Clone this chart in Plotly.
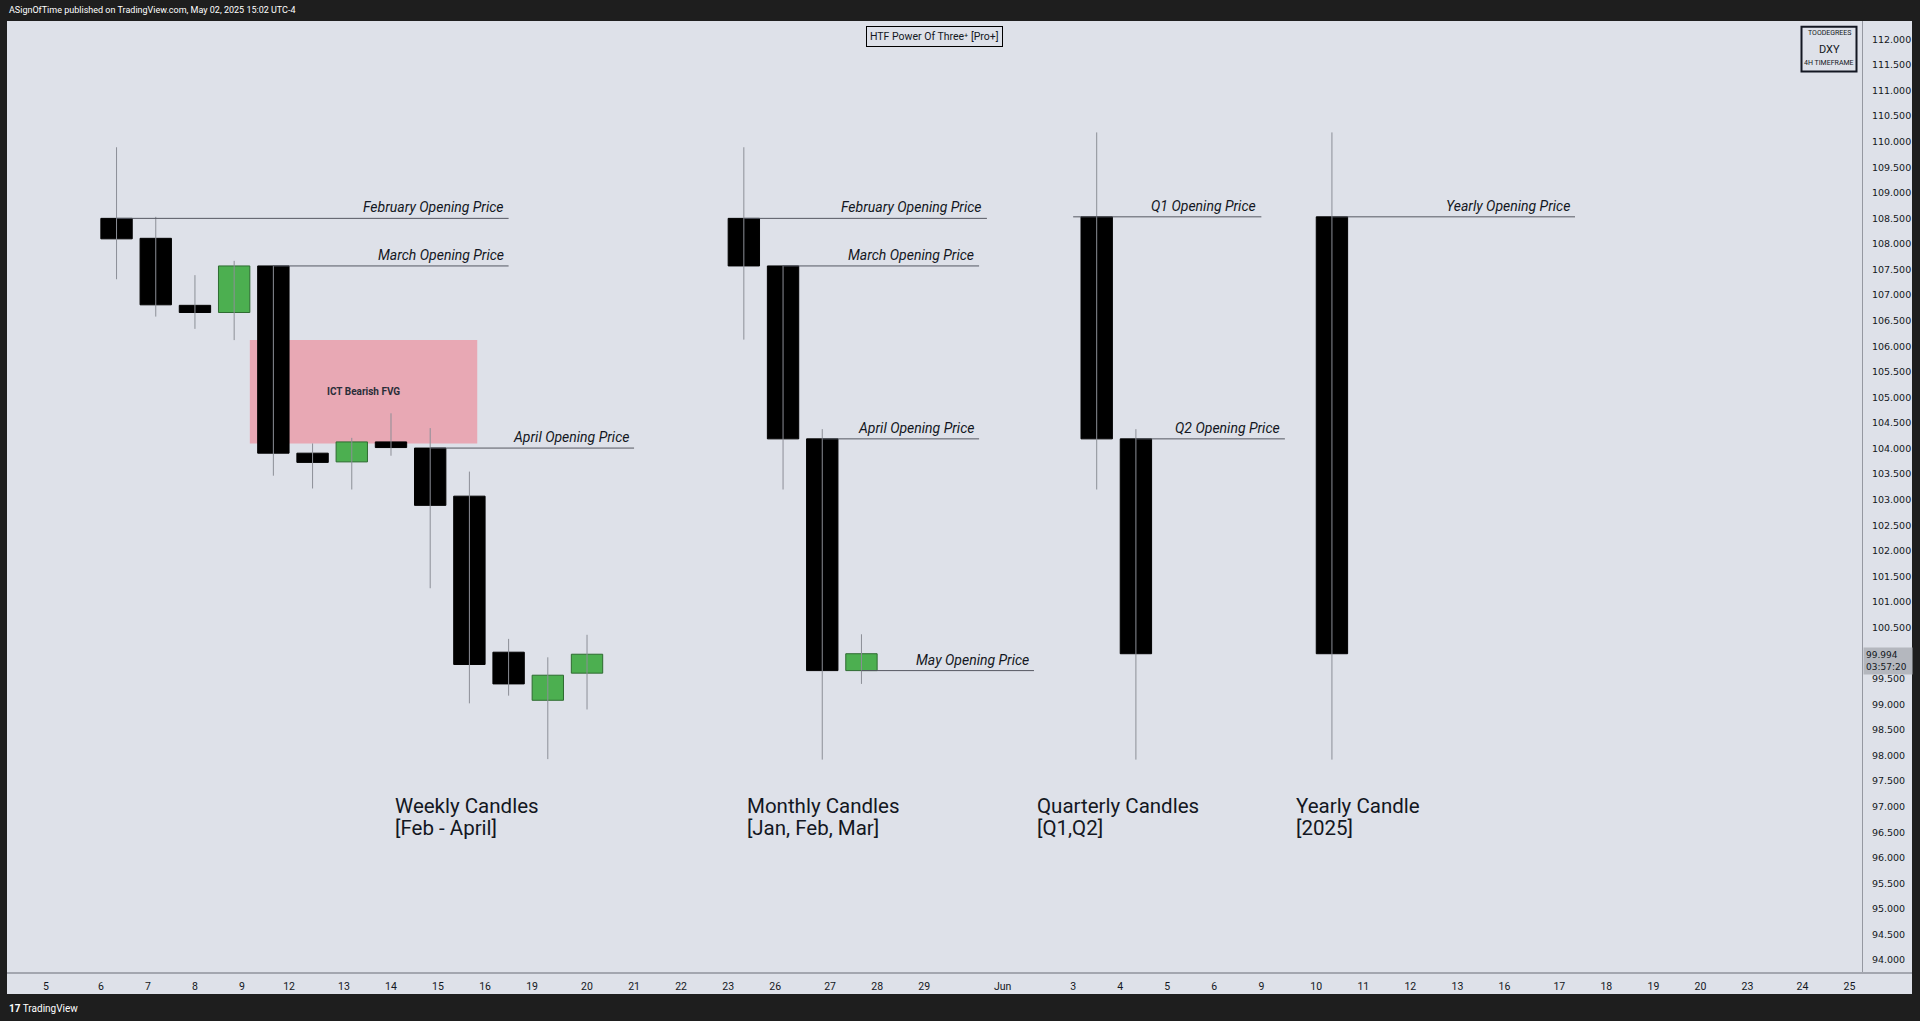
import plotly.graph_objects as go

# DXY - HTF power of three, prices
# x positions are in 4H-bar units counted from the "5" tick

weekly_x = [9, 14, 19, 24, 29, 34, 39, 44, 49, 54, 59, 64, 69]
weekly_open = [108.50, 108.11, 106.80, 106.66, 107.57, 103.91, 103.74, 104.13, 104.01, 103.07, 100.02, 99.08, 99.61]
weekly_high = [109.89, 108.53, 107.39, 107.67, 107.57, 104.10, 104.21, 104.69, 104.40, 103.55, 100.28, 99.92, 100.36]
weekly_low = [107.31, 106.58, 106.34, 106.12, 103.47, 103.22, 103.20, 103.86, 101.27, 99.02, 99.17, 97.93, 98.90]
weekly_close = [108.10, 106.81, 106.66, 107.57, 103.91, 103.73, 104.13, 104.02, 102.89, 99.78, 99.40, 99.57, 99.98]

monthly_x = [89, 94, 99, 104]
monthly_open = [108.50, 107.57, 104.19, 99.66]
monthly_high = [109.89, 107.57, 104.38, 100.37]
monthly_low = [106.13, 103.20, 97.92, 99.40]
monthly_close = [107.57, 104.19, 99.66, 99.99]

quarterly_x = [134, 139]
quarterly_open = [108.53, 104.19]
quarterly_high = [110.18, 104.38]
quarterly_low = [103.20, 97.92]
quarterly_close = [104.19, 99.99]

yearly_x = [164]
yearly_open = [108.53]
yearly_high = [110.18]
yearly_low = [97.92]
yearly_close = [99.99]

# opening price lines: label, start, end, price
line_labels = ["February Opening Price", "March Opening Price", "April Opening Price",
               "February Opening Price", "March Opening Price", "April Opening Price", "May Opening Price",
               "Q1 Opening Price", "Q2 Opening Price", "Yearly Opening Price"]
line_start = [9, 29, 49, 89, 94, 99, 104, 131, 139, 164]
line_end = [59, 59, 75, 120, 119, 119, 126, 155, 158, 195]
line_price = [108.50, 107.57, 104.01, 108.50, 107.57, 104.19, 99.66, 108.53, 104.19, 108.53]

# fair value gap
fvg_x = [26, 55]
fvg_price = [104.10, 106.12]
fvg_label = "ICT Bearish FVG"

group_titles = ["Weekly Candles", "Monthly Candles", "Quarterly Candles", "Yearly Candle"]
group_subtitles = ["[Feb - April]", "[Jan, Feb, Mar]", "[Q1,Q2]", "[2025]"]
group_x = [44.2, 89.1, 126.1, 159.1]

# time axis
tick_text = ["5", "6", "7", "8", "9", "12", "13", "14", "15", "16", "19", "20", "21", "22", "23",
             "26", "27", "28", "29", "Jun", "3", "4", "5", "6", "9", "10", "11", "12", "13",
             "16", "17", "18", "19", "20", "23", "24", "25"]
tick_pos = [0, 7, 13, 19, 25, 31, 38, 44, 50, 56, 62, 69, 75, 81, 87,
            93, 100, 106, 112, 122, 131, 137, 143, 149, 155, 162, 168, 174, 180,
            186, 193, 199, 205, 211, 217, 224, 230]

# price axis (100.000 sits under the last price tag)
price_ticks = [94.0, 94.5, 95.0, 95.5, 96.0, 96.5, 97.0, 97.5, 98.0, 98.5, 99.0, 99.5,
               100.5, 101.0, 101.5, 102.0, 102.5, 103.0, 103.5, 104.0, 104.5, 105.0, 105.5,
               106.0, 106.5, 107.0, 107.5, 108.0, 108.5, 109.0, 109.5, 110.0, 110.5, 111.0,
               111.5, 112.0]

last_price = 99.994
countdown = "03:57:20"

# ---------------------------------------------------------------------
W, H = 1920, 1021
ML, MR, MT, MB = 7, 58, 21, 48
PW = W - ML - MR
PH = H - MT - MB

def px(xp):
	return (xp - ML) / PW

def py(yp):
	return 1 - (yp - MT) / PH

bg = "#dee1e9"
frame = "#1e1e1e"
ink = "#131722"

xs = weekly_x + monthly_x + quarterly_x + yearly_x
opens = weekly_open + monthly_open + quarterly_open + yearly_open
highs = weekly_high + monthly_high + quarterly_high + yearly_high
lows = weekly_low + monthly_low + quarterly_low + yearly_low
closes = weekly_close + monthly_close + quarterly_close + yearly_close

fig = go.Figure()

# wicks
wx, wy = [], []
for x, h, l in zip(xs, highs, lows):
	wx += [x, x, None]
	wy += [l, h, None]
fig.add_trace(go.Scatter(x=wx, y=wy, mode="lines", line=dict(color="#8c8f97", width=1),
                         hoverinfo="skip", showlegend=False))

# opening price lines
lx, ly = [], []
for s, e, p in zip(line_start, line_end, line_price):
	lx += [s, e, None]
	ly += [p, p, None]
fig.add_trace(go.Scatter(x=lx, y=ly, mode="lines", line=dict(color="#555862", width=1),
                         hoverinfo="skip", showlegend=False))

# bodies
bull = [c > o for o, c in zip(opens, closes)]
fig.add_trace(go.Bar(
	x=xs,
	y=[c - o for o, c in zip(opens, closes)],
	base=opens,
	width=4,
	marker_color=["#4caf50" if b else "#000000" for b in bull],
	marker_line_color=["#2e6b31" if b else "#000000" for b in bull],
	marker_line_width=1,
	hoverinfo="skip",
	showlegend=False
))

shapes = [
	# fvg
	dict(type="rect", xref="x", yref="y", x0=fvg_x[0], x1=fvg_x[1], y0=fvg_price[0], y1=fvg_price[1],
	     fillcolor="#e8a8b4", line_width=0, layer="below"),
	# light axis areas outside plot
	dict(type="rect", xref="paper", yref="paper", x0=1, x1=px(1912), y0=py(994), y1=1,
	     fillcolor=bg, line_width=0, layer="below"),
	dict(type="rect", xref="paper", yref="paper", x0=0, x1=px(1912), y0=py(994), y1=0,
	     fillcolor=bg, line_width=0, layer="below"),
	dict(type="line", xref="paper", yref="paper", x0=0, x1=px(1912), y0=0, y1=0,
	     line=dict(color="#a3a6af", width=2)),
	# symbol box top right
	dict(type="rect", xref="paper", yref="paper", x0=px(1801.5), x1=px(1856.5), y0=py(71.5), y1=py(26.7),
	     fillcolor=bg, line=dict(color=ink, width=2), layer="above"),
]

annotations = []
for lab, e, p in zip(line_labels, line_end, line_price):
	annotations.append(dict(x=e, y=p, xref="x", yref="y", text="<i>%s</i>" % lab, showarrow=False,
	                        xanchor="right", yanchor="bottom", xshift=-3, yshift=1,
	                        font=dict(family="Roboto", size=14, color=ink)))

annotations.append(dict(x=(fvg_x[0] + fvg_x[1]) / 2, y=(fvg_price[0] + fvg_price[1]) / 2, xref="x", yref="y",
                        text="<b>%s</b>" % fvg_label, showarrow=False,
                        font=dict(family="Roboto", size=10, color="#2a2e39")))

for t, s, x in zip(group_titles, group_subtitles, group_x):
	annotations.append(dict(x=x, y=97.02, xref="x", yref="y", text=t, showarrow=False, xanchor="left",
	                        yanchor="middle", font=dict(family="Roboto", size=20.5, color=ink)))
	annotations.append(dict(x=x, y=96.59, xref="x", yref="y", text=s, showarrow=False, xanchor="left",
	                        yanchor="middle", font=dict(family="Roboto", size=20.5, color=ink)))

# header texts
annotations += [
	dict(x=0, y=py(10), xref="paper", yref="paper", text="ASignOfTime published on TradingView.com, May 02, 2025 15:02 UTC-4",
	     showarrow=False, xanchor="left", yanchor="middle", font=dict(family="Roboto", size=9, color="#ffffff")),
	dict(x=0, y=py(1008), xref="paper", yref="paper", text="<b>17</b> TradingView",
	     showarrow=False, xanchor="left", yanchor="middle", font=dict(family="Roboto", size=10, color="#ffffff")),
	dict(x=0.5, y=py(36.5), xref="paper", yref="paper", text="HTF Power Of Three⁺ [Pro+]",
	     showarrow=False, xanchor="center", yanchor="middle", bgcolor=bg, bordercolor="#000000",
	     borderwidth=1, borderpad=3, font=dict(family="Roboto", size=10.5, color=ink)),
	dict(x=px(1829), y=py(33), xref="paper", yref="paper", text="TOODEGREES", showarrow=False,
	     xanchor="center", yanchor="middle", font=dict(family="Roboto", size=7, color=ink)),
	dict(x=px(1829), y=py(49.5), xref="paper", yref="paper", text="DXY", showarrow=False,
	     xanchor="center", yanchor="middle", font=dict(family="Roboto", size=11, color=ink)),
	dict(x=px(1829), y=py(63.5), xref="paper", yref="paper", text="4H TIMEFRAME", showarrow=False,
	     xanchor="center", yanchor="middle", font=dict(family="Roboto", size=7, color=ink)),
	dict(x=1, y=last_price, xref="paper", yref="y", text="%.3f<br>%s" % (last_price, countdown),
	     showarrow=False, xanchor="left", yanchor="top", xshift=1, yshift=7, align="left",
	     bgcolor="#b4b7be", borderpad=2, width=44,
	     font=dict(family="DejaVu Sans", size=9, color=ink)),
]

fig.update_layout(
	width=W, height=H,
	margin=dict(l=ML, r=MR, t=MT, b=MB),
	paper_bgcolor=frame,
	plot_bgcolor=bg,
	barmode="overlay",
	showlegend=False,
	hovermode=False,
	shapes=shapes,
	annotations=annotations,
	xaxis=dict(range=[-4.97, 231.6], tickvals=tick_pos, ticktext=tick_text, showgrid=False,
	           zeroline=False, showline=False, ticks="", ticklabelstandoff=5,
	           tickfont=dict(family="Roboto", size=10.5, color=ink), fixedrange=True),
	yaxis=dict(range=[93.749, 112.358], side="right", tickvals=price_ticks, tickformat=".3f",
	           showgrid=False, zeroline=False, showline=True, linecolor="#9598a1", linewidth=1,
	           ticks="", ticklabelstandoff=7,
	           tickfont=dict(family="DejaVu Sans", size=9.5, color=ink), fixedrange=True),
)

# page has a default body margin, drop it so the figure sits at 0,0
fig.write_html("out.html", config={"displayModeBar": False},
               post_script="document.body.style.margin='0';document.body.style.overflow='hidden';")
